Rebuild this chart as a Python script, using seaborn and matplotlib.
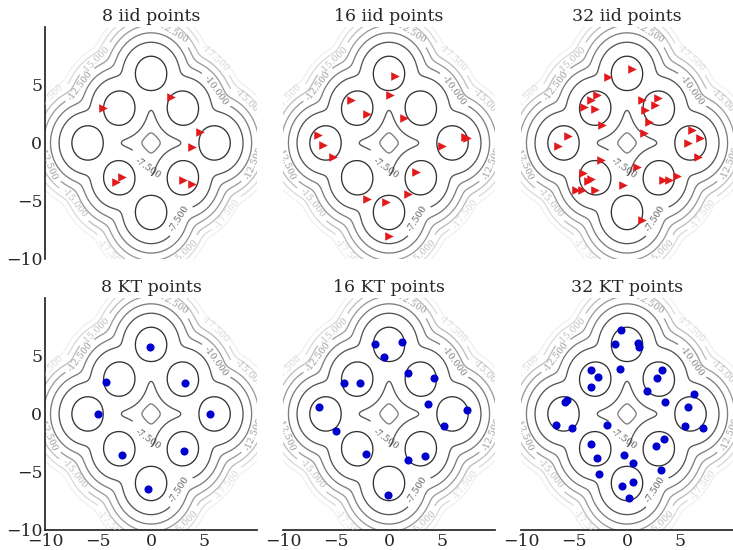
import numpy as np
import pandas as pd
import seaborn as sns
import matplotlib
matplotlib.use("Agg")
import matplotlib.pyplot as plt

# Mixture of 8 unit-variance gaussians (centres)
mog_mean_x = [-3, -3, 3, 3, 0, -6, 6, 0]
mog_mean_y = [3, -3, 3, -3, 6, 0, 0, -6]
contour_levels = [-22.5, -20.0, -17.5, -15.0, -12.5, -10.0, -7.5, -5.0]

# where the contour labels sit (level, x, y)
label_spots = [
    (-12.5, -6.8, 5.0), (-15.0, -5.2, 7.2), (-12.5, 2.0, 9.5),
    (-17.5, 5.75, 6.9), (-10.0, 5.9, 4.4), (-15.0, 9.1, 3.4),
    (-12.5, 9.6, -1.7), (-7.5, -0.6, -1.9), (-7.5, 2.5, -6.5),
    (-17.5, 7.3, -6.2), (-15.0, -7.4, -5.3), (-12.5, -9.6, -1.7),
    (-17.5, -9.6, 4.0), (-15.0, 2.9, -9.2), (-17.5, -4.0, -9.6),
]

# iid points
iid8_x = [-4.53, 1.92, 4.59, 3.90, -2.77, -3.27, 3.05, 3.90]
iid8_y = [2.97, 3.97, 0.91, -0.31, -2.97, -3.34, -3.20, -3.54]

iid16_x = [0.57, 0.13, -3.58, -2.11, 1.45, -6.73, -6.26, -5.31,
           7.20, 7.40, 4.97, 2.52, 1.76, -2.11, -0.31, 0.03]
iid16_y = [5.80, 4.14, 3.69, 2.49, 2.17, 0.66, -0.20, -1.17,
           0.55, 0.40, -0.26, -2.51, -4.43, -4.83, -5.06, -8.06]

iid32_x = [0.44, -1.76, -2.86, -3.43, -4.06, -3.02, -2.39, 1.45,
           2.96, 2.64, 1.70, 2.08, 1.64, -5.53, -6.54, 6.16,
           6.92, 5.72, 6.73, -2.48, 0.97, -4.12, -3.40, -3.71,
           -4.84, -4.21, -3.02, -0.35, 3.36, 3.99, 4.69, 1.38]
iid32_y = [6.40, 5.69, 4.17, 3.74, 3.06, 2.94, 1.54, 3.74,
           3.89, 3.26, 2.83, 1.80, 0.83, 0.60, -0.26, 1.11,
           0.40, -0.03, -1.17, -1.46, -2.03, -2.60, -3.09, -3.31,
           -4.09, -4.09, -4.03, -3.60, -3.23, -3.23, -2.89, -6.66]

# kernel thinning points
kt8_x = [-0.09, -4.21, 3.18, -5.00, 5.60, -2.70, 3.11, -0.31]
kt8_y = [5.73, 2.79, 2.64, -0.04, -0.04, -3.56, -3.19, -6.50]

kt16_x = [-1.32, 1.26, -0.47, -4.21, -2.74, 1.76, 4.28, 3.71,
          -6.64, 7.36, -4.97, 5.22, -2.17, 3.40, 1.76, -0.06]
kt16_y = [6.01, 6.24, 4.87, 2.70, 2.64, 3.50, 3.07, 0.84,
          0.64, 0.33, -1.44, -1.07, -3.44, -3.61, -3.99, -7.01]

kt32_x = [-0.60, -1.13, 1.00, 1.13, -0.66, -3.43, -2.70, -3.40,
          3.27, 2.80, 1.92, 3.58, 6.35, 5.72, 5.47, 7.20,
          -5.63, -5.85, -6.73, -5.16, -1.92, -3.40, -2.86, -2.61,
          -0.28, 0.60, 3.49, 2.70, 3.21, -0.44, 0.60, 0.22]
kt32_y = [7.21, 6.01, 6.07, 5.79, 3.87, 3.79, 3.16, 2.30,
          3.79, 3.07, 2.01, 1.01, 1.73, 0.56, -1.07, -1.19,
          1.16, 1.01, -0.93, -1.21, -0.99, -2.61, -3.79, -5.19,
          -3.56, -4.27, -2.13, -2.79, -4.84, -6.19, -5.90, -7.27]

panels = [
    ("8 iid points", iid8_x, iid8_y, "iid"),
    ("16 iid points", iid16_x, iid16_y, "iid"),
    ("32 iid points", iid32_x, iid32_y, "iid"),
    ("8 KT points", kt8_x, kt8_y, "kt"),
    ("16 KT points", kt16_x, kt16_y, "kt"),
    ("32 KT points", kt32_x, kt32_y, "kt"),
]

sns.set_theme(style="white")
plt.rcParams["font.family"] = ["DejaVu Serif"]


def log_density(X, Y):
    dens = np.zeros_like(X)
    for mx, my in zip(mog_mean_x, mog_mean_y):
        dens += np.exp(-0.5 * ((X - mx) ** 2 + (Y - my) ** 2))
    return np.log(dens / (2 * np.pi * len(mog_mean_x)))


def snap_label_spots(cs):
    # move every wanted label spot onto the nearest vertex of its own level
    pts = []
    for lev, lx, ly in label_spots:
        segs = cs.allsegs[contour_levels.index(lev)]
        verts = np.concatenate([s for s in segs if len(s)])
        d = (verts[:, 0] - lx) ** 2 + (verts[:, 1] - ly) ** 2
        pts.append(tuple(verts[np.argmin(d)]))
    return pts


grid = np.linspace(-10.5, 10.5, 420)
X, Y = np.meshgrid(grid, grid)
Z = log_density(X, Y)

fig = plt.figure(figsize=(7.33, 5.5), dpi=100)
lefts = [0.0615, 0.3861, 0.7108]
bottoms = [0.5291, 0.0364]
width, height = 0.2892, 0.422

for i, (title, xs, ys, kind) in enumerate(panels):
    row, col = divmod(i, 3)
    ax = fig.add_axes([lefts[col], bottoms[row], width, height])
    ax.set_xlim(-10, 10)
    ax.set_ylim(-10, 10)
    cs = ax.contour(X, Y, Z, levels=contour_levels, cmap="Greys",
                    linewidths=0.95, alpha=0.8)
    ax.set_xlim(-10, 10)
    ax.set_ylim(-10, 10)
    spots = snap_label_spots(cs)
    ax.clabel(cs, manual=spots, inline=True, fontsize=6.5, fmt="%1.3f")
    # the label under the central star sits flatter in the original
    centre_label = cs.labelTexts[7]
    centre_label.set_rotation(-35)
    centre_label.set_position((-0.3, -2.2))
    df = pd.DataFrame({"x": xs, "y": ys})
    if kind == "iid":
        sns.scatterplot(data=df, x="x", y="y", ax=ax, marker=">", s=38,
                        color="#e31a1c", linewidth=0, zorder=3)
    else:
        sns.scatterplot(data=df, x="x", y="y", ax=ax, marker="o", s=34,
                        color="mediumblue", linewidth=0, zorder=3)
    ax.set_xlim(-10, 10)
    ax.set_ylim(-10, 10)
    ax.set_xticks([-10, -5, 0, 5])
    ax.set_yticks([-10, -5, 0, 5])
    ax.set_xlabel("")
    ax.set_ylabel("")
    ax.set_title(title, fontsize=12.5, pad=4)
    ax.tick_params(labelsize=12.5, length=0, pad=2)
    sns.despine(ax=ax, left=(col != 0), bottom=(row == 0))
    if col != 0:
        ax.set_yticklabels([])
    if row == 0:
        ax.set_xticklabels([])

plt.savefig("out.png", dpi=100)
